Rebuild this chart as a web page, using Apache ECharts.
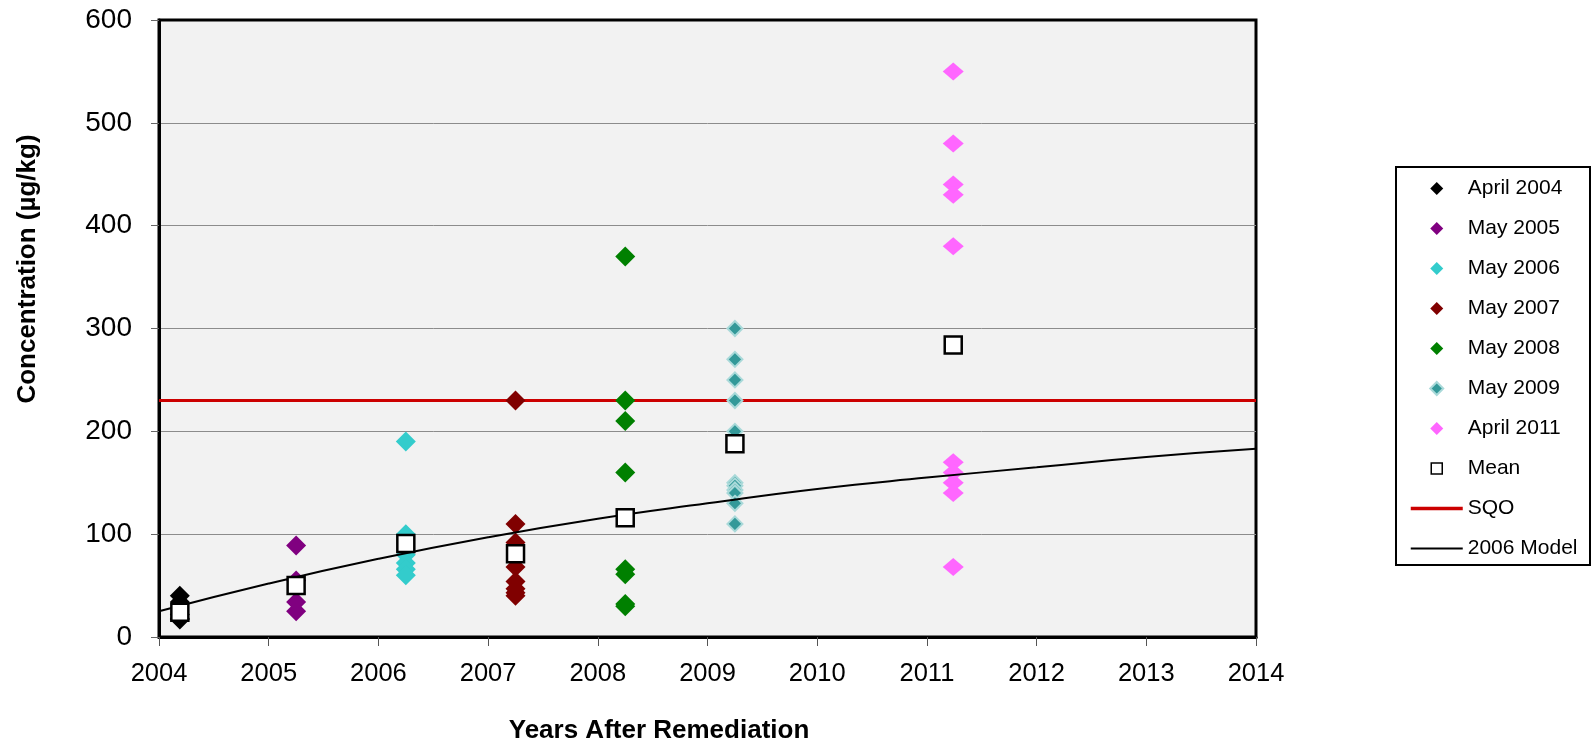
<!DOCTYPE html>
<html>
<head>
<meta charset="utf-8">
<title>Concentration vs Years After Remediation</title>
<script src="https://cdn.jsdelivr.net/npm/echarts@6/dist/echarts.min.js"></script>
<style>
  html, body { margin: 0; padding: 0; background: #ffffff; }
  #chart { width: 1591px; height: 746px; }
</style>
</head>
<body>
<div id="chart"></div>
<script>
// Sampling events and the decimal year each was collected at
const seriesNames = ['April 2004', 'May 2005', 'May 2006', 'May 2007', 'May 2008', 'May 2009', 'April 2011'];
const sampleYears = [2004.19, 2005.25, 2006.25, 2007.25, 2008.25, 2009.25, 2011.24];

// Measured concentrations (µg/kg) per sampling event
const april2004 = [40, 34, 22, 18, 17];
const may2005 = [89, 55, 34, 25];
const may2006 = [190, 100, 80, 72, 66, 60];
const may2007 = [230, 110, 92, 68, 54, 47, 43, 40];
const may2008 = [370, 230, 210, 160, 66, 61, 32, 30];
const may2009 = [300, 270, 250, 230, 200, 150, 147, 143, 140, 130, 110];
const april2011 = [550, 480, 440, 430, 380, 170, 160, 150, 140, 68];

// Mean of each event
const meanValues = [24, 50, 91, 81, 116, 188, 284];

// Sediment quality objective
const sqoValue = 230;

// 2006 model prediction
const modelYears = [2004, 2005, 2006, 2007, 2008, 2009, 2010, 2011, 2012, 2013, 2014];
const modelValues = [25, 52, 76, 97, 115, 130, 144, 155, 165, 175, 183];

const eventValues = [april2004, may2005, may2006, may2007, may2008, may2009, april2011];
const eventColors = ['#000000', '#800080', '#33cccc', '#800000', '#008000', '#339999', '#ff66ff'];

const FONT = 'Arial, "Liberation Sans", sans-serif';

// Legend icons: a small shape centred in a 52 x 13 box (the outer zero-length
// moves pin the bounding box so the shape is not stretched)
const ICON_DIAMOND = 'path://M0,6.5L0,6.5M52,6.5L52,6.5M26,0L32.5,6.5L26,13L19.5,6.5Z';
const ICON_SQUARE = 'path://M0,6.5L0,6.5M52,6.5L52,6.5M20.5,1L31.5,1L31.5,12L20.5,12Z';

const scatterSeries = seriesNames.map((name, i) => {
  const s = {
    name: name,
    type: 'scatter',
    z: 3,
    symbol: 'diamond',
    symbolSize: 20,
    itemStyle: { color: eventColors[i], opacity: 1 },
    data: eventValues[i].map(v => [sampleYears[i], v])
  };
  if (name === 'May 2009') {
    s.symbolSize = 15;
    s.itemStyle = { color: '#339999', borderColor: '#a9d9d9', borderWidth: 2, opacity: 1 };
  }
  if (name === 'April 2011') {
    s.symbolSize = [21, 18];
  }
  return s;
});

const hiddenMarker = { color: 'rgba(0,0,0,0)', borderWidth: 0, opacity: 0 };
const legendData = seriesNames.map(name => ({ name: name, icon: ICON_DIAMOND }))
  .concat([
    { name: 'Mean', icon: ICON_SQUARE, itemStyle: { borderWidth: 1.5 } },
    { name: 'SQO', itemStyle: hiddenMarker, lineStyle: { color: '#cc0000', width: 3.5 } },
    { name: '2006 Model', itemStyle: hiddenMarker, lineStyle: { color: '#000000', width: 2 } }
  ]);

const chart = echarts.init(document.getElementById('chart'), null, { renderer: 'canvas' });

chart.setOption({
  animation: false,
  backgroundColor: '#ffffff',
  grid: {
    left: 159, right: 335, top: 20, bottom: 109,
    show: true,
    backgroundColor: '#f2f2f2',
    borderColor: '#000000',
    borderWidth: 3
  },
  xAxis: {
    type: 'value',
    min: 2004, max: 2014, interval: 1,
    axisLine: { show: true, onZero: false, lineStyle: { color: '#000000', width: 3 } },
    axisTick: { show: true, inside: false, length: 9, lineStyle: { color: '#555555', width: 1 } },
    splitLine: { show: false },
    axisLabel: {
      margin: 24,
      color: '#000000',
      fontFamily: FONT,
      fontSize: 25.5,
      formatter: v => String(v)
    }
  },
  yAxis: {
    type: 'value',
    min: 0, max: 600, interval: 100,
    axisLine: { show: true, onZero: false, lineStyle: { color: '#000000', width: 3 } },
    axisTick: { show: true, inside: false, length: 8, lineStyle: { color: '#666666', width: 1 } },
    splitLine: {
      show: true,
      lineStyle: {
        color: ['rgba(0,0,0,0)', '#8c8c8c', '#8c8c8c', '#8c8c8c', '#8c8c8c', '#8c8c8c', 'rgba(0,0,0,0)'],
        width: 1
      }
    },
    axisLabel: {
      margin: 27,
      color: '#000000',
      fontFamily: FONT,
      fontSize: 28
    }
  },
  legend: {
    orient: 'vertical',
    left: 1409,
    top: 178,
    padding: 0,
    itemGap: 19,
    itemWidth: 52,
    itemHeight: 13,
    textStyle: { color: '#000000', fontFamily: FONT, fontSize: 21 },
    data: legendData
  },
  graphic: [
    {
      type: 'rect',
      shape: { x: 1396, y: 167, width: 194, height: 398 },
      style: { fill: 'rgba(0,0,0,0)', stroke: '#000000', lineWidth: 2 },
      z: 0
    },
    {
      type: 'text',
      x: 659, y: 731,
      style: {
        text: 'Years After Remediation',
        fill: '#000000',
        font: 'bold 26px ' + FONT,
        align: 'center',
        verticalAlign: 'middle'
      }
    },
    {
      type: 'text',
      x: 28, y: 269,
      rotation: Math.PI / 2,
      style: {
        text: 'Concentration (µg/kg)',
        fill: '#000000',
        font: 'bold 26px ' + FONT,
        align: 'center',
        verticalAlign: 'middle'
      }
    }
  ],
  series: scatterSeries.concat([
    {
      name: 'Mean',
      type: 'scatter',
      z: 5,
      symbol: 'rect',
      symbolSize: 17,
      itemStyle: { color: '#ffffff', borderColor: '#000000', borderWidth: 2.5, opacity: 1 },
      data: meanValues.map((v, i) => [sampleYears[i], v])
    },
    {
      name: 'SQO',
      type: 'line',
      z: 2,
      symbol: 'none',
      lineStyle: { color: '#cc0000', width: 3 },
      itemStyle: { color: '#cc0000' },
      data: [[2004, sqoValue], [2014, sqoValue]]
    },
    {
      name: '2006 Model',
      type: 'line',
      z: 4,
      symbol: 'none',
      smooth: true,
      lineStyle: { color: '#000000', width: 2 },
      itemStyle: { color: '#000000' },
      data: modelYears.map((y, i) => [y, modelValues[i]])
    }
  ])
});
</script>
</body>
</html>
